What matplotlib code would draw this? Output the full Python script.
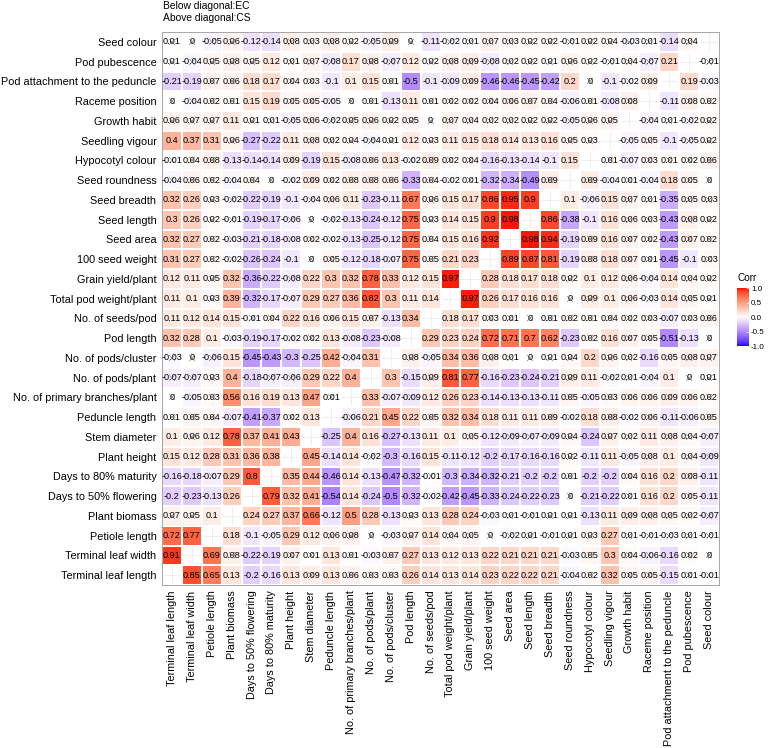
import numpy as np
import matplotlib
matplotlib.use('Agg')
import matplotlib.pyplot as plt
from matplotlib.colors import ListedColormap

nan = np.nan
# variables, in x-axis order (left to right); y axis shows them bottom to top
variables = ["Terminal leaf length", "Terminal leaf width", "Petiole length", "Plant biomass",
             "Days to 50% flowering", "Days to 80% maturity", "Plant height", "Stem diameter",
             "Peduncle length", "No. of primary branches/plant", "No. of pods/plant",
             "No. of pods/cluster", "Pod length", "No. of seeds/pod", "Total pod weight/plant",
             "Grain yield/plant", "100 seed weight", "Seed area", "Seed length", "Seed breadth",
             "Seed roundness", "Hypocotyl colour", "Seedling vigour", "Growth habit",
             "Raceme position", "Pod attachment to the peduncle", "Pod pubescence", "Seed colour"]

# displayed rows, top to bottom (row variable), values per x column
row_seed_colour = [0.01, 0, -0.05, 0.06, -0.12, -0.14, 0.08, 0.03, 0.08, 0.02, -0.05, 0.09, 0, -0.11, -0.02, 0.01, 0.07, 0.03, 0.02, 0.02, -0.01, 0.02, 0.04, -0.03, 0.01, -0.14, 0.04, nan]
row_pod_pubescence = [0.01, -0.04, 0.05, 0.08, 0.05, 0.12, 0.01, 0.07, -0.08, 0.17, 0.08, -0.07, 0.12, 0.02, 0.08, 0.09, -0.08, 0.02, 0.02, 0.01, 0.06, 0.02, -0.01, 0.04, -0.07, 0.21, nan, -0.01]
row_pod_attachment = [-0.21, -0.19, 0.07, 0.06, 0.18, 0.17, 0.04, 0.03, -0.1, 0.1, 0.15, 0.01, -0.5, -0.1, -0.09, 0.09, -0.46, -0.46, -0.45, -0.42, 0.2, 0, -0.1, -0.02, 0.09, nan, 0.19, -0.03]
row_raceme_position = [0, -0.04, 0.02, 0.01, 0.15, 0.19, 0.05, 0.05, -0.05, 0, 0.01, -0.13, 0.11, 0.01, 0.02, 0.02, 0.04, 0.06, 0.07, 0.04, -0.06, 0.01, -0.08, 0.08, nan, -0.11, 0.08, 0.02]
row_growth_habit = [0.06, 0.07, 0.07, 0.11, 0.01, 0.01, -0.05, 0.06, -0.02, 0.05, 0.06, 0.02, 0.05, 0, 0.07, 0.04, 0.02, 0.02, 0.02, 0.02, -0.05, 0.06, 0.05, nan, -0.04, 0.01, -0.02, 0.02]
row_seedling_vigour = [0.4, 0.37, 0.31, 0.06, -0.27, -0.22, 0.11, 0.08, 0.02, 0.04, -0.04, 0.01, 0.12, 0.03, 0.11, 0.15, 0.18, 0.14, 0.13, 0.16, 0.05, 0.03, nan, -0.05, 0.05, -0.1, -0.05, 0.02]
row_hypocotyl_colour = [-0.01, 0.04, 0.08, -0.13, -0.14, -0.14, 0.09, -0.19, 0.15, -0.08, 0.06, 0.13, -0.02, 0.09, 0.02, 0.04, -0.16, -0.13, -0.14, -0.1, 0.15, nan, 0.01, -0.07, 0.03, 0.01, 0.02, 0.06]
row_seed_roundness = [-0.04, 0.06, 0.02, -0.04, 0.04, 0, -0.02, 0.09, 0.02, 0.08, 0.08, 0.06, -0.33, 0.04, -0.02, 0.01, -0.32, -0.34, -0.49, 0.09, nan, 0.09, -0.04, 0.01, -0.04, 0.18, 0.05, 0]
row_seed_breadth = [0.32, 0.26, 0.03, -0.02, -0.22, -0.19, -0.1, -0.04, 0.06, 0.11, -0.23, -0.11, 0.67, 0.06, 0.15, 0.17, 0.86, 0.95, 0.9, nan, 0.1, -0.06, 0.15, 0.07, 0.01, -0.35, 0.05, 0.03]
row_seed_length = [0.3, 0.26, 0.02, -0.01, -0.19, -0.17, -0.06, 0, -0.02, -0.13, -0.24, -0.12, 0.75, 0.03, 0.14, 0.15, 0.9, 0.98, nan, 0.86, -0.38, -0.1, 0.16, 0.06, 0.03, -0.43, 0.08, 0.02]
row_seed_area = [0.32, 0.27, 0.02, -0.03, -0.21, -0.18, -0.08, 0.02, -0.02, -0.13, -0.25, -0.12, 0.75, 0.04, 0.15, 0.16, 0.92, nan, 0.98, 0.94, -0.19, 0.09, 0.16, 0.07, 0.02, -0.43, 0.07, 0.02]
row_100_seed_weight = [0.31, 0.27, 0.02, -0.02, -0.26, -0.24, -0.1, 0, 0.05, -0.12, -0.18, -0.07, 0.75, 0.05, 0.21, 0.23, nan, 0.89, 0.87, 0.81, -0.19, 0.08, 0.18, 0.07, 0.01, -0.45, -0.1, 0.03]
row_grain_yield = [0.12, 0.11, 0.05, 0.32, -0.36, -0.22, -0.08, 0.22, 0.3, 0.32, 0.78, 0.33, 0.12, 0.15, 0.97, nan, 0.28, 0.18, 0.17, 0.18, 0.02, 0.1, 0.12, 0.06, -0.04, 0.14, 0.04, 0.02]
row_total_pod_weight = [0.11, 0.1, 0.03, 0.39, -0.32, -0.17, -0.07, 0.29, 0.27, 0.36, 0.82, 0.3, 0.11, 0.14, nan, 0.97, 0.26, 0.17, 0.16, 0.16, 0, 0.09, 0.1, 0.06, -0.03, 0.14, 0.05, 0.01]
row_seeds_per_pod = [0.11, 0.12, 0.14, 0.15, -0.01, 0.04, 0.22, 0.16, 0.06, 0.15, 0.07, -0.13, 0.34, nan, 0.18, 0.17, 0.03, 0.01, 0, 0.01, 0.02, 0.01, 0.04, 0.02, 0.03, -0.07, 0.03, 0.06]
row_pod_length = [0.32, 0.28, 0.1, -0.03, -0.19, -0.17, -0.02, 0.02, 0.13, -0.08, -0.23, -0.08, nan, 0.29, 0.23, 0.24, 0.72, 0.71, 0.7, 0.62, -0.23, 0.02, 0.16, 0.07, 0.05, -0.51, -0.13, 0]
row_pods_per_cluster = [-0.03, 0, -0.06, 0.15, -0.45, -0.43, -0.3, -0.25, 0.42, -0.04, 0.31, nan, 0.08, -0.05, 0.34, 0.36, 0.08, 0.01, 0, 0.01, 0.04, 0.2, 0.06, 0.02, -0.16, 0.05, 0.08, 0.07]
row_pods_per_plant = [-0.07, -0.07, 0.03, 0.4, -0.18, -0.07, -0.06, 0.29, 0.22, 0.4, nan, 0.3, -0.15, 0.09, 0.81, 0.77, -0.16, -0.23, -0.24, -0.21, 0.09, 0.11, -0.02, 0.01, -0.04, 0.1, 0, 0.01]
row_primary_branches = [0, -0.05, 0.03, 0.56, 0.16, 0.19, 0.13, 0.47, 0.01, nan, 0.33, -0.07, -0.09, 0.12, 0.26, 0.23, -0.14, -0.13, -0.13, -0.11, 0.05, -0.05, 0.03, 0.06, 0.06, 0.09, 0.06, 0.02]
row_peduncle_length = [0.01, 0.05, 0.04, -0.07, -0.41, -0.37, 0.02, 0.13, nan, -0.06, 0.21, 0.45, 0.22, 0.05, 0.32, 0.34, 0.18, 0.11, 0.11, 0.09, -0.02, 0.18, 0.08, -0.02, 0.06, -0.11, -0.06, 0.05]
row_stem_diameter = [0.1, 0.06, 0.12, 0.78, 0.37, 0.41, 0.43, nan, -0.25, 0.4, 0.16, -0.27, -0.13, 0.11, 0.1, 0.05, -0.12, -0.09, -0.07, -0.09, 0.04, -0.24, 0.07, 0.02, 0.11, 0.08, 0.04, -0.07]
row_plant_height = [0.15, 0.12, 0.28, 0.31, 0.36, 0.38, nan, 0.45, -0.14, 0.14, -0.02, -0.3, -0.16, 0.15, -0.11, -0.12, -0.2, -0.17, -0.16, -0.16, 0.02, -0.11, 0.11, -0.05, 0.08, 0.1, 0.04, -0.09]
row_days_80 = [-0.16, -0.18, -0.07, 0.29, 0.8, nan, 0.35, 0.44, -0.46, 0.14, -0.13, -0.47, -0.32, -0.01, -0.3, -0.34, -0.32, -0.21, -0.2, -0.2, 0.01, -0.2, -0.2, 0.04, 0.16, 0.2, 0.08, -0.11]
row_days_50 = [-0.2, -0.23, -0.13, 0.26, nan, 0.79, 0.32, 0.41, -0.54, 0.14, -0.24, -0.5, -0.32, -0.02, -0.42, -0.45, -0.33, -0.24, -0.22, -0.23, 0, -0.21, -0.22, 0.01, 0.16, 0.2, 0.05, -0.11]
row_plant_biomass = [0.07, 0.05, 0.1, nan, 0.24, 0.27, 0.37, 0.66, -0.12, 0.5, 0.28, -0.13, 0.03, 0.13, 0.28, 0.24, -0.03, 0.01, -0.01, 0.01, 0.01, -0.13, 0.11, 0.09, 0.08, 0.05, 0.02, -0.07]
row_petiole_length = [0.72, 0.77, nan, 0.18, -0.1, -0.05, 0.29, 0.12, 0.06, 0.08, 0, -0.03, 0.07, 0.14, 0.04, 0.05, 0, -0.02, 0.01, -0.01, 0.01, 0.03, 0.27, 0.01, -0.01, -0.03, 0.01, -0.01]
row_terminal_leaf_width = [0.91, nan, 0.69, 0.08, -0.22, -0.19, 0.07, 0.01, 0.13, 0.01, -0.03, 0.07, 0.27, 0.13, 0.12, 0.13, 0.22, 0.21, 0.21, 0.21, -0.03, 0.05, 0.3, 0.04, -0.06, -0.16, 0.02, 0]
row_terminal_leaf_length = [nan, 0.85, 0.65, 0.13, -0.2, -0.16, 0.13, 0.09, 0.13, 0.06, 0.03, 0.03, 0.26, 0.14, 0.13, 0.14, 0.23, 0.22, 0.22, 0.21, -0.04, 0.02, 0.32, 0.05, 0.05, -0.15, 0.01, -0.01]

rows = [row_seed_colour, row_pod_pubescence, row_pod_attachment, row_raceme_position,
        row_growth_habit, row_seedling_vigour, row_hypocotyl_colour, row_seed_roundness,
        row_seed_breadth, row_seed_length, row_seed_area, row_100_seed_weight, row_grain_yield,
        row_total_pod_weight, row_seeds_per_pod, row_pod_length, row_pods_per_cluster,
        row_pods_per_plant, row_primary_branches, row_peduncle_length, row_stem_diameter,
        row_plant_height, row_days_80, row_days_50, row_plant_biomass, row_petiole_length,
        row_terminal_leaf_width, row_terminal_leaf_length]
row_labels = variables[::-1]

M = np.array(rows, dtype=float)
n = M.shape[0]

# ---- blue-white-red gradient interpolated in Lab (like ggplot2 scale_fill_gradient2) ----
_M = np.array([[0.4124564, 0.3575761, 0.1804375],
               [0.2126729, 0.7151522, 0.0721750],
               [0.0193339, 0.1191920, 0.9503041]])
_Minv = np.linalg.inv(_M)
_wp = np.array([0.95047, 1.0, 1.08883])

def _lin(c):
    c = np.asarray(c, float)
    return np.where(c <= 0.04045, c / 12.92, ((c + 0.055) / 1.055) ** 2.4)

def _gam(c):
    c = np.clip(c, 0, 1)
    return np.where(c <= 0.0031308, 12.92 * c, 1.055 * c ** (1 / 2.4) - 0.055)

def to_lab(rgb):
    xyz = _M @ _lin(rgb) / _wp
    f = np.where(xyz > 0.008856, np.cbrt(xyz), 7.787 * xyz + 16 / 116)
    return np.array([116 * f[1] - 16, 500 * (f[0] - f[1]), 200 * (f[1] - f[2])])

def to_rgb(lab):
    fy = (lab[0] + 16) / 116
    fx = fy + lab[1] / 500
    fz = fy - lab[2] / 200
    f = np.array([fx, fy, fz])
    xyz = np.where(f ** 3 > 0.008856, f ** 3, (f - 16 / 116) / 7.787) * _wp
    return _gam(_Minv @ xyz)

lab_blue, lab_white, lab_red = to_lab([0, 0, 1]), to_lab([1, 1, 1]), to_lab([1, 0, 0])
cols = []
for t in np.linspace(-1, 1, 257):
    if t < 0:
        a = t + 1
        lab = lab_blue + (lab_white - lab_blue) * a
    else:
        lab = lab_white + (lab_red - lab_white) * t
    cols.append(to_rgb(lab))
cmap = ListedColormap(np.array(cols))

plt.rcParams['font.family'] = ['Liberation Sans', 'DejaVu Sans']

W, H = 768, 748
fig = plt.figure(figsize=(W / 100, H / 100), dpi=100)
L, R, T, B = 162, 719, 32, 585
ax = fig.add_axes([L / W, 1 - B / H, (R - L) / W, (B - T) / H])

ax.set_xlim(0, n)
ax.set_ylim(n, 0)
ax.set_xticks(np.arange(n) + 0.5)
ax.set_yticks(np.arange(n) + 0.5)
ax.grid(True, color='#EBEBEB', lw=0.6)
ax.set_axisbelow(True)

ax.pcolormesh(np.arange(n + 1), np.arange(n + 1), np.ma.masked_invalid(M), cmap=cmap,
              vmin=-1, vmax=1, edgecolors='white', linewidth=0.3, zorder=2)

for i in range(n):
    for j in range(n):
        v = M[i, j]
        if np.isnan(v):
            continue
        s = f"{v:g}"
        if s == '-0':
            s = '0'
        ax.text(j + 0.5, i + 0.5, s, ha='center', va='center', fontsize=6.6, color='black', zorder=3)
        if abs(v) < 0.095:
            ax.plot(j + 0.5, i + 0.5, marker='x', ms=4.5, mew=0.3, color='#444444', zorder=4)

ax.set_xticklabels(variables, rotation=90, fontsize=7.8, color='black')
ax.set_yticklabels(row_labels, fontsize=7.8, color='black')
ax.tick_params(length=0, pad=4)
for sp in ax.spines.values():
    sp.set_color('#A6A6A6')
    sp.set_linewidth(0.7)

fig.text(163 / W, 1 - 6 / H, "Below diagonal:EC", fontsize=7.4, ha='left', va='center')
fig.text(163 / W, 1 - 18 / H, "Above diagonal:CS", fontsize=7.4, ha='left', va='center')

# colour bar
cb_l, cb_r, cb_t, cb_b = 737, 749, 288, 346
cax = fig.add_axes([cb_l / W, 1 - cb_b / H, (cb_r - cb_l) / W, (cb_b - cb_t) / H])
grad = np.linspace(-1, 1, 256).reshape(-1, 1)
cax.imshow(grad, aspect='auto', cmap=cmap, origin='lower', extent=[0, 1, -1, 1])
cax.set_xticks([])
cax.yaxis.tick_right()
cax.set_yticks([-1, -0.5, 0, 0.5, 1])
cax.set_yticklabels(['-1.0', '-0.5', '0.0', '0.5', '1.0'], fontsize=5.8)
cax.tick_params(axis='y', length=2.5, width=0.5, color='white', pad=1.5, direction='in')
for sp in cax.spines.values():
    sp.set_visible(False)
fig.text(cb_l / W, 1 - (cb_t - 10) / H, "Corr", fontsize=7.2, ha='left', va='center')

fig.savefig('out.png', dpi=100)
